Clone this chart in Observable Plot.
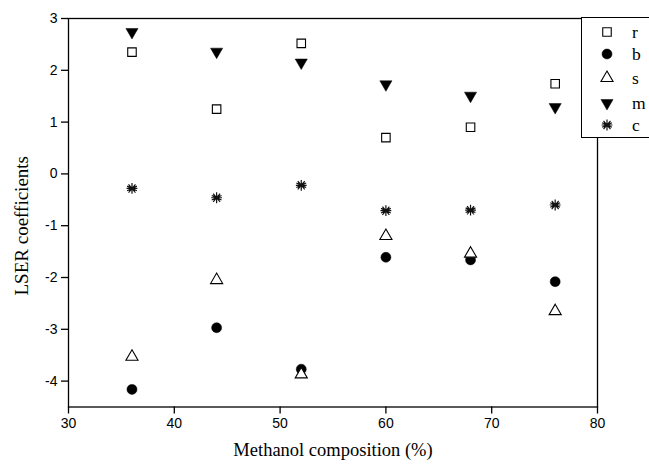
<!DOCTYPE html>
<html><head><meta charset="utf-8">
<script src="https://cdn.jsdelivr.net/npm/d3@7"></script>
<script src="https://cdn.jsdelivr.net/npm/@observablehq/plot@0.6"></script>
<style>
html,body{margin:0;padding:0;background:#fff;overflow:hidden;}
#wrap{position:relative;width:649px;height:464px;overflow:hidden;}
#legend{position:absolute;left:581px;top:17px;width:90px;height:121px;border:1px solid #000;background:#fff;box-sizing:border-box;}
</style></head><body><div id="wrap"></div>
<script>
const methanol = [36, 44, 52, 60, 68, 76];
const rVals = [2.35, 1.25, 2.52, 0.70, 0.90, 1.74];
const bVals = [-4.16, -2.97, -3.77, -1.61, -1.66, -2.08];
const sVals = [-3.53, -2.05, -3.87, -1.20, -1.54, -2.65];
const mVals = [2.74, 2.36, 2.15, 1.73, 1.51, 1.29];
const cVals = [-0.28, -0.46, -0.22, -0.71, -0.70, -0.60];
const seriesNames = ["r", "b", "s", "m", "c"];
const xTicks = [30, 40, 50, 60, 70, 80];
const yTicks = [-4, -3, -2, -1, 0, 1, 2, 3];
const xLabel = "Methanol composition (%)";
const yLabel = "LSER coefficients";

const triangleDown = {
  draw(ctx, size) {
    const y = Math.sqrt(size / (Math.sqrt(3) * 3));
    ctx.moveTo(0, 2 * y);
    ctx.lineTo(-Math.sqrt(3) * y, -y);
    ctx.lineTo(Math.sqrt(3) * y, -y);
    ctx.closePath();
  }
};
const starBurst = {
  draw(ctx, size) {
    const R = Math.sqrt(size / Math.PI) * 1.2;
    for (const deg of [0, 25, 50, 90, 130, 155]) {
      const a = deg * Math.PI / 180;
      ctx.moveTo(R * Math.cos(a), R * Math.sin(a));
      ctx.lineTo(-R * Math.cos(a), -R * Math.sin(a));
    }
    const q = R * 0.55;
    ctx.moveTo(-q, -q); ctx.lineTo(q, q);
    ctx.moveTo(q, -q); ctx.lineTo(-q, q);
  }
};

const series = [
  {name: "r", values: rVals, symbol: "square", r: 4.8, fill: "white", stroke: "black", sw: 1.1},
  {name: "b", values: bVals, symbol: "circle", r: 5, fill: "black", stroke: "black", sw: 0.5},
  {name: "s", values: sVals, symbol: "triangle", r: 4.5, fill: "white", stroke: "black", sw: 1.1},
  {name: "m", values: mVals, symbol: triangleDown, r: 4.5, fill: "black", stroke: "black", sw: 0.5},
  {name: "c", values: cVals, symbol: starBurst, r: 4.5, fill: "none", stroke: "#111", sw: 1.2}
];

const tickFont = "'Liberation Sans', Arial, sans-serif";
const titleFont = "'Liberation Serif', 'Times New Roman', serif";

const marks = [
  Plot.frame({stroke: "black", strokeWidth: 1.3}),
  Plot.axisX(xTicks, {tickSize: 7, tickPadding: 4, fontSize: 14, fontFamily: tickFont, stroke: "black", strokeWidth: 1.3, label: null}),
  Plot.axisY(yTicks, {tickSize: 7, tickPadding: 4, fontSize: 14, fontFamily: tickFont, stroke: "black", strokeWidth: 1.3, label: null, tickFormat: d => String(d).replace("−", "-")}),
  Plot.text([xLabel], {frameAnchor: "bottom", textAnchor: "middle", dy: 49, fontSize: 18.5, fontFamily: titleFont, fill: "black"}),
  Plot.text([yLabel], {frameAnchor: "left", textAnchor: "middle", rotate: -90, dx: -47, dy: 13, fontSize: 19, fontFamily: titleFont, fill: "black"})
];
for (const s of series) {
  marks.push(Plot.dot(methanol.map((x, i) => ({x, y: s.values[i]})), {
    x: "x", y: "y", symbol: s.symbol, r: s.r, fill: s.fill, stroke: s.stroke, strokeWidth: s.sw
  }));
}

const chart = Plot.plot({
  width: 649, height: 464,
  marginLeft: 68, marginRight: 52, marginTop: 18, marginBottom: 57.5,
  x: {domain: [30, 80], axis: null},
  y: {domain: [-4.5, 3], axis: null},
  style: {background: "white", color: "black"},
  marks
});
const wrap = document.getElementById("wrap");
wrap.appendChild(chart);

// legend overlay
const legend = document.createElement("div");
legend.id = "legend";
wrap.appendChild(legend);
const lsvg = d3.select(legend).append("svg").attr("width", 90).attr("height", 121);
const rowY = [14, 36, 60, 85, 107];
series.forEach((s, i) => {
  const sym = typeof s.symbol === "string"
    ? {square: d3.symbolSquare, circle: d3.symbolCircle, triangle: d3.symbolTriangle}[s.symbol]
    : s.symbol;
  lsvg.append("path")
    .attr("d", d3.symbol(sym, Math.PI * s.r * s.r)())
    .attr("transform", `translate(25,${rowY[i]})`)
    .attr("fill", s.fill).attr("stroke", s.stroke).attr("stroke-width", s.sw);
  lsvg.append("text")
    .attr("x", 50).attr("y", rowY[i]).attr("dy", "0.35em")
    .attr("font-family", titleFont).attr("font-size", 17.5)
    .text(seriesNames[i]);
});
</script>
</body></html>
